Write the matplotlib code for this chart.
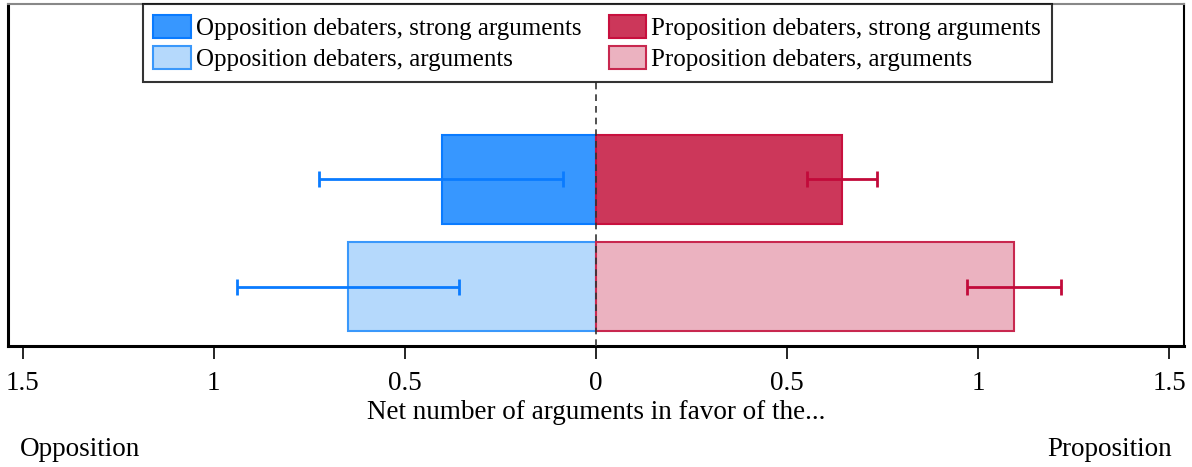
import matplotlib
matplotlib.use("Agg")
from matplotlib import pyplot
from matplotlib.patches import Patch

pyplot.rcParams["font.family"] = ["Liberation Serif", "DejaVu Serif"]

# rows: 0 = arguments, 1 = strong arguments
rows = [0, 1]
opp_vals = [-0.648, -0.404]
prop_vals = [1.094, 0.643]
opp_ci_lo = [-0.940, -0.724]
opp_ci_hi = [-0.359, -0.086]
prop_ci_lo = [0.971, 0.552]
prop_ci_hi = [1.216, 0.734]
tick_vals = [-1.5, -1, -0.5, 0, 0.5, 1, 1.5]
tick_labels = ["1.5", "1", "0.5", "0", "0.5", "1", "1.5"]

opp_fill = ["#b5d9fc", "#3797ff"]
opp_edge = ["#3a98fb", "#0a7bff"]
prop_fill = ["#ebb2c0", "#cc375a"]
prop_edge = ["#c8284f", "#c8103e"]
blue_err = "#0a7bff"
red_err = "#c20a3a"

fig = pyplot.figure(figsize=(11.92, 4.67), dpi=100)
ax = fig.add_axes([8 / 1192, 1 - 346 / 467, 1176 / 1192, 342 / 467])

for i, r in enumerate(rows):
    ax.barh(r, opp_vals[i], height=0.83, color=opp_fill[i], edgecolor=opp_edge[i], linewidth=1.5, zorder=2)
    ax.barh(r, prop_vals[i], height=0.83, color=prop_fill[i], edgecolor=prop_edge[i], linewidth=1.5, zorder=2)
    # confidence intervals
    ax.errorbar((opp_ci_lo[i] + opp_ci_hi[i]) / 2, r, xerr=(opp_ci_hi[i] - opp_ci_lo[i]) / 2,
                fmt="none", ecolor=blue_err, elinewidth=2, capsize=6, capthick=2, zorder=3)
    ax.errorbar((prop_ci_lo[i] + prop_ci_hi[i]) / 2, r, xerr=(prop_ci_hi[i] - prop_ci_lo[i]) / 2,
                fmt="none", ecolor=red_err, elinewidth=2, capsize=6, capthick=2, zorder=3)

ax.axvline(0, ymin=0, ymax=(346 - 80) / 342, color="#333333", linestyle=(0, (4, 3)), linewidth=1.2, zorder=4)

ax.set_xlim(-1.538, 1.538)
ax.set_ylim(-0.556, 2.64)
ax.set_yticks([])
ax.set_xticks(tick_vals)
ax.set_xticklabels(tick_labels, fontsize=19.5)
ax.tick_params(axis="x", direction="out", length=9, width=1.2, pad=9, colors="black")

ax.spines["left"].set_linewidth(2.2)
ax.spines["bottom"].set_linewidth(2.2)
ax.spines["right"].set_linewidth(1.5)
ax.spines["top"].set_linewidth(1.5)
ax.spines["top"].set_color("#888888")

ax.set_xlabel("Net number of arguments in favor of the...", fontsize=19.5, labelpad=3)
fig.text(20 / 1192, 1 - 450 / 467, "Opposition", fontsize=19.5, ha="left", va="center")
fig.text(1172 / 1192, 1 - 450 / 467, "Proposition", fontsize=19.5, ha="right", va="center")

handles = [
    Patch(facecolor=opp_fill[1], edgecolor=opp_edge[1], linewidth=1.5, label="Opposition debaters, strong arguments"),
    Patch(facecolor=opp_fill[0], edgecolor=opp_edge[0], linewidth=1.5, label="Opposition debaters, arguments"),
    Patch(facecolor=prop_fill[1], edgecolor=prop_edge[1], linewidth=1.5, label="Proposition debaters, strong arguments"),
    Patch(facecolor=prop_fill[0], edgecolor=prop_edge[0], linewidth=1.5, label="Proposition debaters, arguments"),
]
leg = ax.legend(handles=handles, ncol=2, loc="upper center", bbox_to_anchor=(0.501, 1.0),
                fontsize=18, frameon=True, fancybox=False, edgecolor="black",
                handlelength=1.5, handleheight=1.05, handletextpad=0.2, columnspacing=1.1,
                labelspacing=0.25, borderpad=0.42, borderaxespad=0.0)
leg.get_frame().set_linewidth(1.5)

fig.savefig("out.png", dpi=100)
